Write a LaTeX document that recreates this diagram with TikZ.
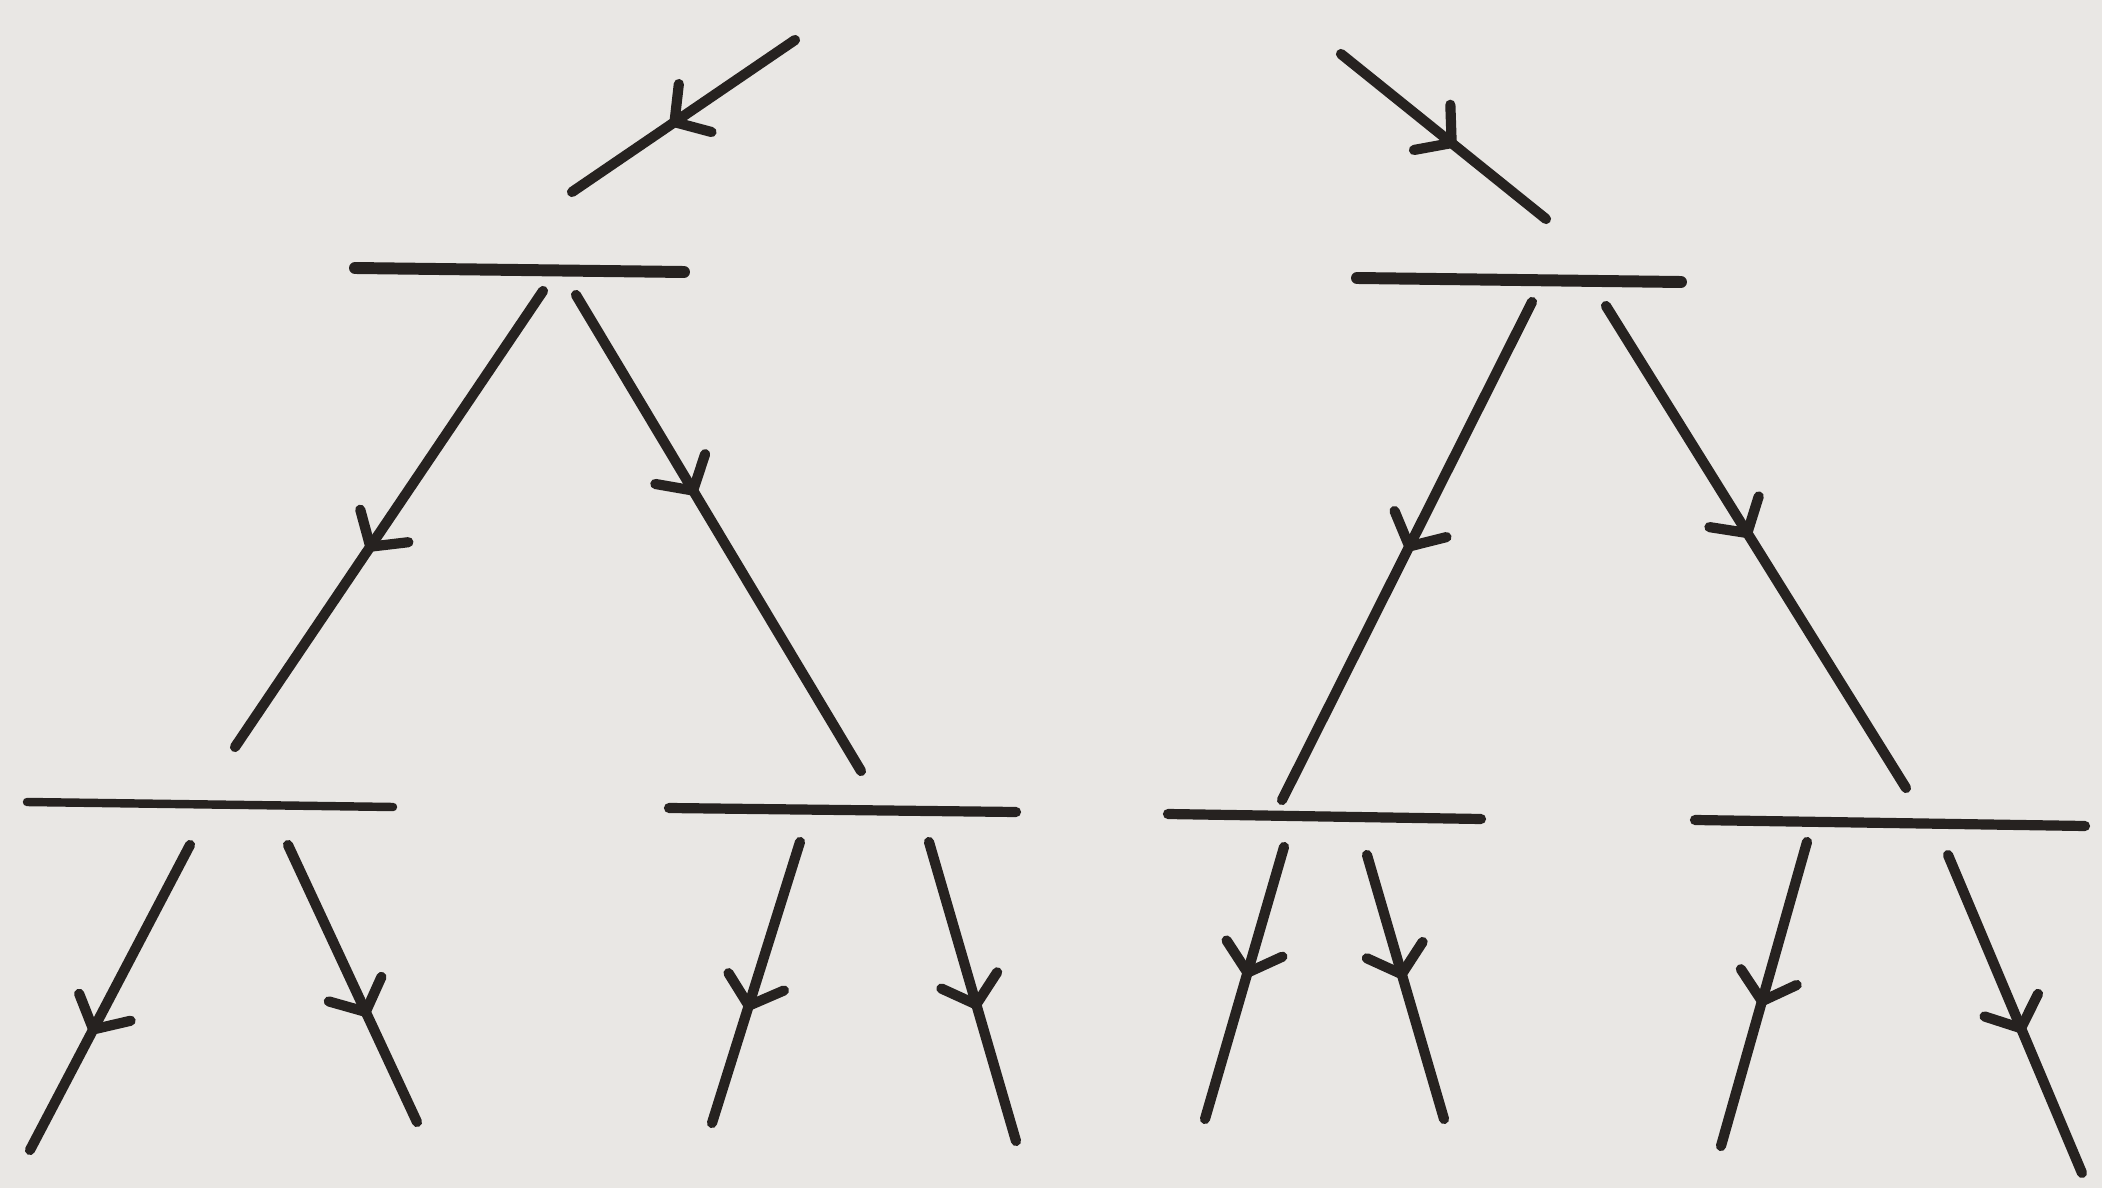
\documentclass[tikz,border=0pt]{standalone}
\usepackage{tikz}
\usetikzlibrary{arrows.meta,decorations.markings}
\definecolor{paper}{RGB}{233,231,228}
\definecolor{ink}{RGB}{38,34,32}

\tikzset{
  bar/.style={ink, line width=2.9pt, line cap=round},
  topbar/.style={bar, line width=3.4pt},
  branch/.style={ink, line width=2.9pt, line cap=round},
  flow/.style={postaction={decorate}, decoration={markings,
      mark=at position #1 with {\arrow{Straight Barb[length=2.5mm, width=5.8mm, line width=2.9pt, round]}}}},
  flow/.default=0.55
}

\begin{document}
\begin{tikzpicture}[x=0.01cm, y=-0.01cm]
    % --- paper ---
    \fill[paper] (0,0) rectangle (2102,1188);
    \useasboundingbox (0,0) rectangle (2102,1188);
    % --- left tree: end points ---
    \coordinate (lin) at (795,40);   \coordinate (lout) at (572,192);
    \coordinate (lbA) at (355,268);  \coordinate (lbB) at (684,272);
    \coordinate (lLs) at (543,291);  \coordinate (lLe) at (235,747);
    \coordinate (lRs) at (576,295);  \coordinate (lRe) at (861,771);
    \coordinate (llA) at (27,802);   \coordinate (llB) at (393,807);
    \coordinate (lrA) at (669,808);  \coordinate (lrB) at (1016,812);
    \coordinate (ll1s) at (190,845); \coordinate (ll1e) at (30,1150);
    \coordinate (ll2s) at (288,845); \coordinate (ll2e) at (417,1122);
    \coordinate (lr1s) at (800,842); \coordinate (lr1e) at (712,1123);
    \coordinate (lr2s) at (929,842); \coordinate (lr2e) at (1016,1141);
    % --- right tree: end points ---
    \coordinate (rin) at (1341,54);  \coordinate (rout) at (1546,219);
    \coordinate (rbA) at (1357,278); \coordinate (rbB) at (1681,282);
    \coordinate (rLs) at (1532,302); \coordinate (rLe) at (1282,800);
    \coordinate (rRs) at (1606,306); \coordinate (rRe) at (1906,788);
    \coordinate (rlA) at (1168,814); \coordinate (rlB) at (1481,819);
    \coordinate (rrA) at (1695,820); \coordinate (rrB) at (2085,826);
    \coordinate (rl1s) at (1284,847); \coordinate (rl1e) at (1205,1119);
    \coordinate (rl2s) at (1367,855); \coordinate (rl2e) at (1444,1119);
    \coordinate (rr1s) at (1807,842); \coordinate (rr1e) at (1721,1146);
    \coordinate (rr2s) at (1948,855); \coordinate (rr2e) at (2082,1173);
    % --- left tree ---
    \draw[branch, flow=0.56] (lin) -- (lout);
    \draw[topbar] (lbA) -- (lbB);
    \draw[branch, flow=0.57] (lLs) -- (lLe);
    \draw[branch, flow=0.42] (lRs) -- (lRe);
    \draw[bar, line width=2.4pt] (llA) -- (llB);
    \draw[bar] (lrA) -- (lrB);
    \draw[branch, flow=0.62] (ll1s) -- (ll1e);
    \draw[branch, flow=0.62] (ll2s) -- (ll2e);
    \draw[branch, flow=0.6] (lr1s) -- (lr1e);
    \draw[branch, flow=0.56] (lr2s) -- (lr2e);
    % --- right tree ---
    \draw[branch, flow=0.56] (rin) -- (rout);
    \draw[topbar] (rbA) -- (rbB);
    \draw[branch, flow=0.5] (rLs) -- (rLe);
    \draw[branch, flow=0.48] (rRs) -- (rRe);
    \draw[bar] (rlA) -- (rlB);
    \draw[bar] (rrA) -- (rrB);
    \draw[branch, flow=0.48] (rl1s) -- (rl1e);
    \draw[branch, flow=0.47] (rl2s) -- (rl2e);
    \draw[branch, flow=0.54] (rr1s) -- (rr1e);
    \draw[branch, flow=0.56] (rr2s) -- (rr2e);
\end{tikzpicture}
\end{document}
